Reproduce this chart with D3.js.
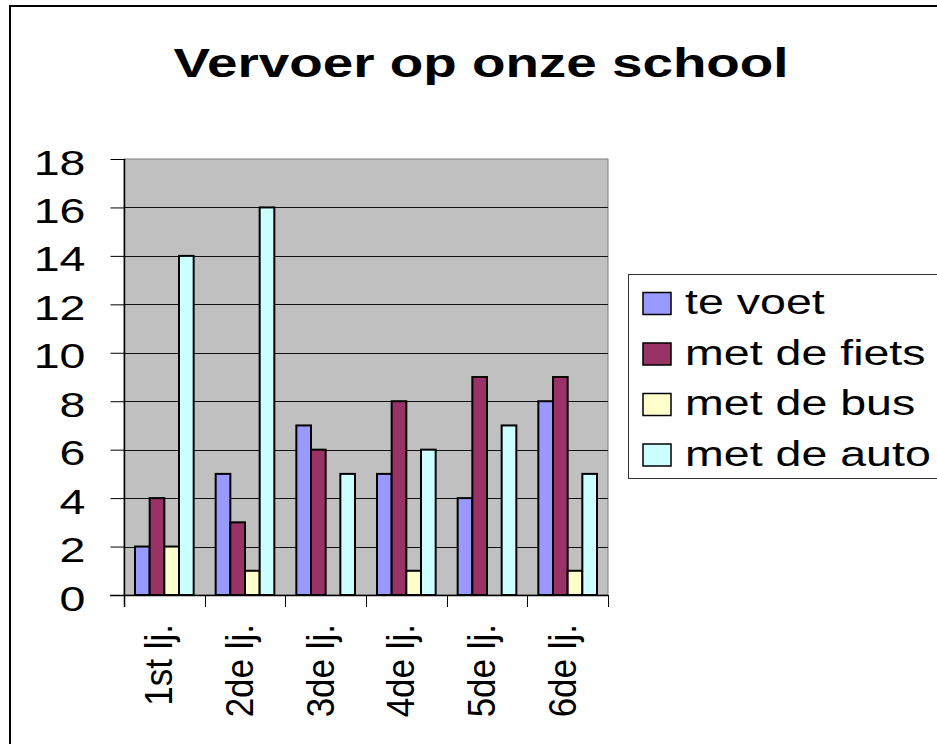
<!DOCTYPE html>
<html><head><meta charset="utf-8">
<script src="https://cdn.jsdelivr.net/npm/d3@7"></script>
<style>html,body{margin:0;padding:0;background:#fff;overflow:hidden}svg{display:block}</style>
</head><body>
<svg id="c" width="937" height="744"></svg>
<script>
const categories = ["1st lj.", "2de lj.", "3de lj.", "4de lj.", "5de lj.", "6de lj."];
const seriesNames = ["te voet", "met de fiets", "met de bus", "met de auto"];
const teVoet = [2, 5, 7, 5, 4, 8];
const metDeFiets = [4, 3, 6, 8, 9, 9];
const metDeBus = [2, 1, 0, 1, 0, 1];
const metDeAuto = [14, 16, 5, 6, 7, 5];
const yTicks = [0, 2, 4, 6, 8, 10, 12, 14, 16, 18];
const colors = ["#9999FF", "#993366", "#FFFFCC", "#CCFFFF"];
const title = "Vervoer op onze school";

const series = [teVoet, metDeFiets, metDeBus, metDeAuto];
const svg = d3.select("#c");
const font = "'Liberation Sans', Arial, sans-serif";

const L = 124, R = 608, T = 159, B = 595;
const x = d3.scaleBand().domain(categories).range([L, R]).padding(0);
const bw = x.bandwidth();
const barW = bw / 5.5;
const xs = d3.scaleBand().domain(seriesNames).range([0.75 * barW, bw - 0.75 * barW]).padding(0);
const y = d3.scaleLinear().domain([0, 18]).range([B, T]);

// outer border
svg.append("rect").attr("x", 10).attr("y", 6).attr("width", 1000).attr("height", 1000)
  .attr("fill", "#fff").attr("stroke", "#000").attr("stroke-width", 2);

// title
svg.append("text").attr("transform", "translate(481,77) scale(1.37,1)")
  .attr("text-anchor", "middle").attr("font-family", font).attr("font-weight", "bold")
  .attr("font-size", 40).attr("fill", "#000").text(title);

// plot area
svg.append("rect").attr("x", L).attr("y", T).attr("width", R - L).attr("height", B - T)
  .attr("fill", "#C0C0C0").attr("stroke", "#808080").attr("stroke-width", 1);

// gridlines
svg.append("g").selectAll("line").data(yTicks.filter(d => d > 0 && d < 18)).join("line")
  .attr("x1", L).attr("x2", R).attr("y1", d => Math.round(y(d)) + 0.5).attr("y2", d => Math.round(y(d)) + 0.5)
  .attr("stroke", "#111").attr("stroke-width", 1);

// bars
const g = svg.append("g");
series.forEach((vals, si) => {
  g.selectAll(null).data(vals.map((v, i) => ({ v, c: categories[i] })).filter(d => d.v > 0)).join("rect")
    .attr("x", d => x(d.c) + xs(seriesNames[si]))
    .attr("y", d => y(d.v))
    .attr("width", xs.bandwidth())
    .attr("height", d => y(0) - y(d.v))
    .attr("fill", colors[si]).attr("stroke", "#000").attr("stroke-width", 2);
});

// y axis
const yAxis = d3.axisLeft(y).tickValues(yTicks).tickSize(14).tickSizeOuter(0).tickFormat(d3.format("d"));
const ya = svg.append("g").attr("transform", `translate(${L + 0.5},0)`).call(yAxis);
ya.select(".domain").remove();
ya.selectAll(".tick line").attr("stroke", "#000").attr("stroke-width", 1);
ya.selectAll(".tick text").remove();
ya.selectAll(".tick").append("text")
  .attr("transform", "translate(-39,15) scale(1.33,1)")
  .attr("text-anchor", "end").attr("font-family", font).attr("font-size", 35).attr("fill", "#000")
  .text(d => d);
svg.append("line").attr("x1", L + 0.5).attr("x2", L + 0.5).attr("y1", T).attr("y2", B + 12)
  .attr("stroke", "#000").attr("stroke-width", 1.5);

// x axis
svg.append("line").attr("x1", L - 14).attr("x2", R).attr("y1", B + 0.5).attr("y2", B + 0.5)
  .attr("stroke", "#000").attr("stroke-width", 1.5);
const bounds = categories.map(c => x(c)).concat([x.range()[1]]);
svg.append("g").selectAll("line").data(bounds).join("line")
  .attr("x1", d => Math.round(d) + 0.5).attr("x2", d => Math.round(d) + 0.5)
  .attr("y1", B).attr("y2", B + 12).attr("stroke", "#000").attr("stroke-width", 1);
svg.append("g").selectAll("text").data(categories).join("text")
  .attr("transform", d => `translate(${x(d) + bw / 2 + 8},624) rotate(-90) scale(1,1.12)`)
  .attr("text-anchor", "end").attr("font-family", font).attr("font-size", 35).attr("fill", "#000")
  .text(d => d);

// legend
svg.append("rect").attr("x", 628.5).attr("y", 274.5).attr("width", 400).attr("height", 204)
  .attr("fill", "#fff").attr("stroke", "#333").attr("stroke-width", 1);
const lg = svg.append("g").selectAll("g").data(seriesNames).join("g")
  .attr("transform", (d, i) => `translate(0,${i * 50.5})`);
lg.append("rect").attr("x", 643).attr("y", 292.5).attr("width", 28).attr("height", 22)
  .attr("fill", (d, i) => colors[i]).attr("stroke", "#000").attr("stroke-width", 1.5);
lg.append("text").attr("transform", "translate(685,314) scale(1.33,1)")
  .attr("font-family", font).attr("font-size", 35).attr("fill", "#000").text(d => d);
</script>
</body></html>
